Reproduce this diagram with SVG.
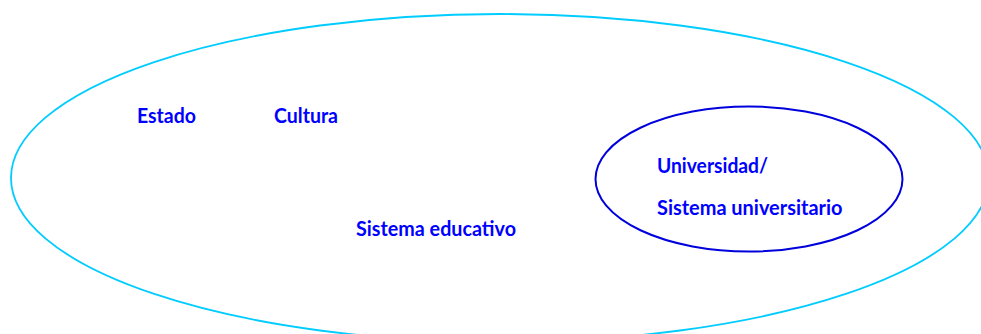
<svg xmlns="http://www.w3.org/2000/svg" width="981" height="334" viewBox="0 0 981 334">
<style>
.lbl{font-family:Lato,"Open Sans","Liberation Sans",sans-serif;font-weight:bold;font-size:20px;fill:#0000FF}
</style>
<rect width="981" height="334" fill="#FFFFFF"/>
<g id="outer">
<ellipse cx="500" cy="178" rx="489" ry="164" fill="none" stroke="#00CCFF" stroke-width="1.8"/>
<text class="lbl" x="137" y="123" textLength="59" lengthAdjust="spacingAndGlyphs">Estado</text>
<text class="lbl" x="274" y="123" textLength="64" lengthAdjust="spacingAndGlyphs">Cultura</text>
<text class="lbl" x="356" y="235.5" textLength="160" lengthAdjust="spacingAndGlyphs">Sistema educativo</text>
</g>
<g id="inner">
<ellipse cx="749" cy="179" rx="153.5" ry="72.5" fill="none" stroke="#0000DD" stroke-width="2"/>
<text class="lbl" x="657" y="172.5" textLength="111" lengthAdjust="spacingAndGlyphs">Universidad/</text>
<text class="lbl" x="657" y="215" textLength="185.5" lengthAdjust="spacingAndGlyphs">Sistema universitario</text>
</g>
<g id="connectors"></g>
</svg>
